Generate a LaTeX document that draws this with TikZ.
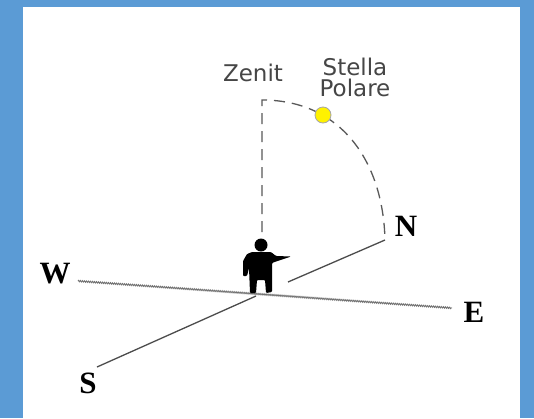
\documentclass[tikz,border=0pt]{standalone}
\usepackage{fontspec}
\setmainfont{Liberation Serif}
\newfontfamily\skyfont{DejaVu Sans}
\usetikzlibrary{decorations.pathmorphing}
\definecolor{frameblue}{RGB}{91,155,213}
\definecolor{skygray}{RGB}{70,70,70}

\begin{document}
\begin{tikzpicture}[x=1pt, y=-1pt,
  cardinal/.style={font=\fontsize{31}{31}\selectfont\bfseries, inner sep=0pt},
  skylabel/.style={font=\skyfont\fontsize{23}{21}\selectfont, text=skygray, inner sep=0pt, align=center},
  ground/.style={draw=black!55, line width=0.9pt, decorate,
    decoration={zigzag, amplitude=0.7pt, segment length=2pt}},
  meridian/.style={draw=black!70, line width=1.3pt},
  skyline/.style={draw=black!65, line width=1.3pt, dash pattern=on 11pt off 7pt}]

\useasboundingbox (0,0) rectangle (534,418);
\fill[frameblue] (0,0) rectangle (534,418);
\fill[white] (23,7) rectangle (520,418);

% punti cardinali
\node[cardinal] (W) at (55,274) {W};
\node[cardinal] (E) at (474,312) {E};
\node[cardinal] (S) at (88,383) {S};
\node[cardinal] (N) at (406,226) {N};

\coordinate (w) at (78,281);
\coordinate (e) at (452,308);
\coordinate (s) at (97,367);
\coordinate (o) at (256,296);
\coordinate (n0) at (288,282);
\coordinate (n) at (385,240);

\draw[ground] (w) -- (e);
\draw[meridian] (s) -- (o);
\draw[meridian] (n0) -- (n);

% zenit e arco fino al nord
\node[skylabel] (zenit) at (253,73) {Zenit};
\node[skylabel] (stella) at (355,77) {Stella\\Polare};
\coordinate (z) at (262,100);
\coordinate (h) at (262,232);
\draw[skyline] (h) -- (z) .. controls (340,100) and (383,160) .. (n);
\node[circle, fill=yellow, draw=black!35, line width=0.8pt, minimum size=16pt, inner sep=0pt] (polare) at (323,115) {};

% osservatore
\node[circle, fill=black, minimum size=13pt, inner sep=0pt] (testa) at (261,245) {};
\fill[rounded corners=1pt] (252,252) -- (271,252) -- (276,256) -- (291,256.5) -- (276,261.5)
  -- (272,263) -- (272,292) -- (266,293) -- (265,280) -- (257,280) -- (256,293) -- (250,293)
  -- (249,268) -- (247,276) -- (243,276) -- (243,261) -- (247,254) -- cycle;
\end{tikzpicture}
\end{document}
